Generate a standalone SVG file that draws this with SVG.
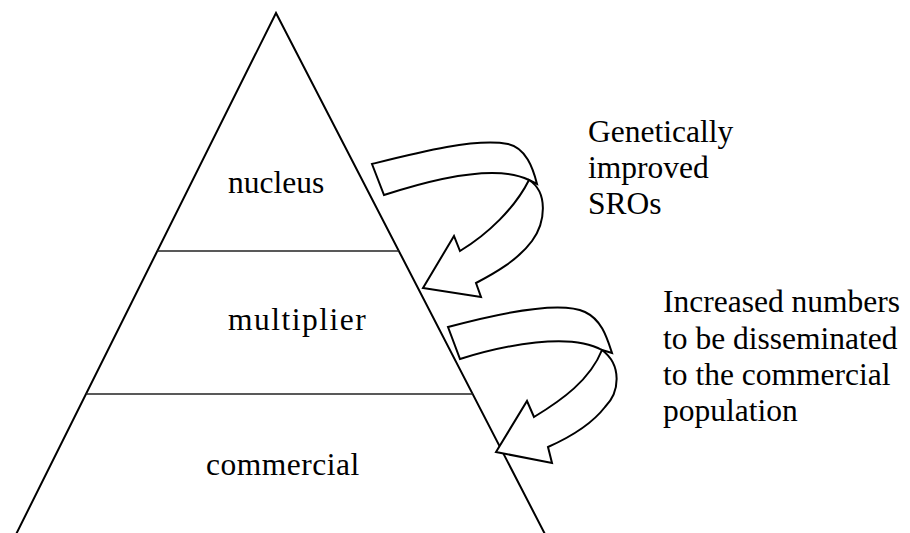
<svg xmlns="http://www.w3.org/2000/svg" width="910" height="533" viewBox="0 0 910 533">
<style>
.ln{fill:none;stroke:#000;stroke-width:2;stroke-linejoin:miter}
.hl{fill:none;stroke:#222;stroke-width:1.6}
.ar{fill:#fff;stroke:#000;stroke-width:2;stroke-linejoin:miter}
text{font-family:"Liberation Serif","Times New Roman",serif;font-size:31.5px;fill:#000}
</style>
<rect width="910" height="533" fill="#fff"/>
<g id="pyramid">
<polyline class="ln" points="13.2,540 276,13 548,540"/>
</g>
<g id="nucleus">
<line class="hl" x1="157.3" y1="251" x2="398.9" y2="251"/>
<text x="228" y="193">nucleus</text>
</g>
<g id="multiplier">
<line class="hl" x1="86" y1="394" x2="472.7" y2="394"/>
<text x="228" y="330" letter-spacing="1.5">multiplier</text>
</g>
<g id="commercial">
<text x="206" y="475" letter-spacing="0.5">commercial</text>
</g>
<g id="connectors">
<g id="arrow1">
<path class="ar" d="M372,164 C420,152 475,138 508,144 C526,148 533,168 537,184 L529,180 C495,163 430,180 384,195 Z"/>
<path class="ar" d="M529,180 C548,192 546,222 532,241 C518,260 495,273 476,283 L481,297 L423,288 L454,236 L460,251 C488,234 515,208 529,180 Z"/>
</g>
<g id="arrow2">
<path class="ar" d="M448,327 C500,313 560,300 585,312 C602,320 607,338 612,353 L602,350 C570,332 505,345 460,359 Z"/>
<path class="ar" d="M602,350 C622,365 620,392 605,407 C595,420 575,435 548,447 L552,463 L496,452 L527,401 L534,417 C562,400 590,380 602,350 Z"/>
</g>
</g>
<g id="label-sros">
<text x="588" y="142">Genetically</text>
<text x="588" y="178">improved</text>
<text x="588" y="214">SROs</text>
</g>
<g id="label-numbers">
<text x="663" y="312">Increased numbers</text>
<text x="663" y="349">to be disseminated</text>
<text x="663" y="385">to the commercial</text>
<text x="663" y="421">population</text>
</g>
</svg>
